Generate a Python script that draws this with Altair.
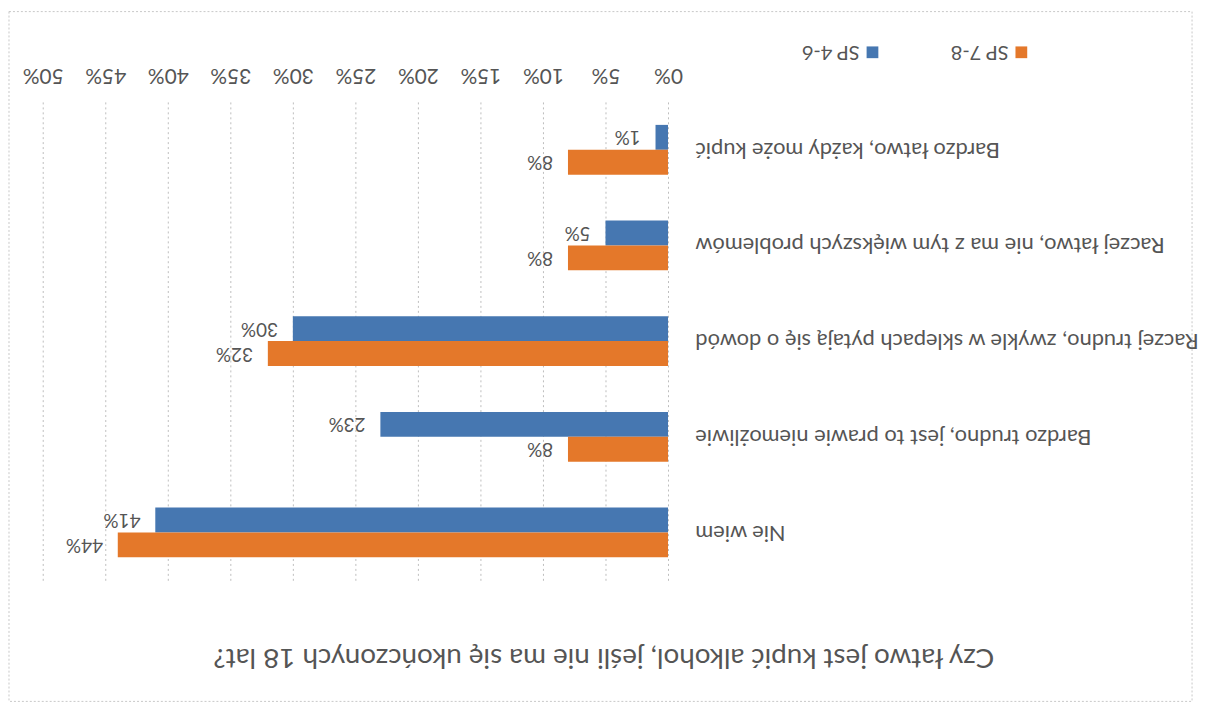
import altair as alt
import pandas as pd

categories = [
    "Bardzo łatwo, każdy może kupić",
    "Raczej łatwo, nie ma z tym większych problemów",
    "Raczej trudno, zwykle w sklepach pytają się o dowód",
    "Bardzo trudno, jest to prawie niemożliwie",
    "Nie wiem",
]
series = ["SP 4-6", "SP 7-8"]
sp46 = [1, 5, 30, 23, 41]
sp78 = [8, 8, 32, 8, 44]
ticks = [0, 5, 10, 15, 20, 25, 30, 35, 40, 45, 50]
title_text = "Czy łatwo jest kupić alkohol, jeśli nie ma się ukończonych 18 lat?"
colors = ["#4677B1", "#E4782A"]

rows = []
for c, a, b in zip(categories, sp46, sp78):
    rows.append({"cat": c, "series": series[0], "value": a, "label": f"{a}%"})
    rows.append({"cat": c, "series": series[1], "value": b, "label": f"{b}%"})
df = pd.DataFrame(rows)

FONT = "Lato"
TXT = "#555555"

color = alt.Color("series:N", scale=alt.Scale(domain=series, range=colors), legend=None)
y = alt.Y(
    "cat:N", sort=categories,
    scale=alt.Scale(paddingInner=0.48, paddingOuter=0.24),
    axis=alt.Axis(orient="right", title=None, labelAngle=180, labelAlign="right",
                  labelBaseline="middle", labelPadding=27, ticks=False, domain=False,
                  labelFont=FONT, labelFontSize=22, labelColor=TXT, labelLimit=0),
)
yoff = alt.YOffset("series:N", sort=series)
x = alt.X(
    "value:Q", scale=alt.Scale(domain=[0, 50], reverse=True, nice=False),
    axis=alt.Axis(orient="top", values=ticks, labelExpr="datum.value + '%'", title=None,
                  labelAngle=180, labelAlign="center", labelBaseline="middle",
                  labelPadding=28, ticks=False, domain=False, grid=True,
                  gridColor="#BDBDBD", gridDash=[2, 3], gridWidth=1,
                  labelFont=FONT, labelFontSize=21, labelColor=TXT),
)

base = alt.Chart(df)
bars = base.mark_bar().encode(x=x, y=y, yOffset=yoff, color=color)
labels = base.mark_text(angle=180, align="left", baseline="middle", dx=15,
                        font=FONT, fontSize=19, color=TXT).encode(
    x=x, y=y, yOffset=yoff, text="label:N")

# legend (drawn upside down like the rest)
leg_pos = {series[1]: 986, series[0]: 836}
legend_layers = []
for s in series:
    sx = leg_pos[s]
    sub = base.transform_filter(alt.datum.series == s).transform_aggregate(n="count()", groupby=["series"])
    legend_layers.append(sub.mark_square(size=140, opacity=1).encode(
        x=alt.value(sx), y=alt.value(-50), color=color))
    legend_layers.append(sub.mark_text(angle=180, align="left", baseline="middle",
                                       font=FONT, fontSize=20, color=TXT).encode(
        x=alt.value(sx - 13), y=alt.value(-50), text="series:N"))

border = alt.Chart(alt.Data(values=[{}])).mark_rect(
    filled=False, stroke="#C8C8C8", strokeDash=[2, 2], strokeWidth=1).encode(
    x=alt.value(-34), x2=alt.value(1158), y=alt.value(-91), y2=alt.value(604))

chart = alt.layer(border, bars, labels, *legend_layers).properties(
    width=630, height=482,
    padding=0,
    title=alt.TitleParams(text=title_text, orient="bottom", angle=180, anchor="middle",
                          frame="bounds", font=FONT, fontSize=28, fontWeight="normal",
                          color=TXT, offset=-31),
).configure(background="white").configure_view(stroke=None)

chart.save("out.html", embed_options={"renderer": "svg", "actions": False})
